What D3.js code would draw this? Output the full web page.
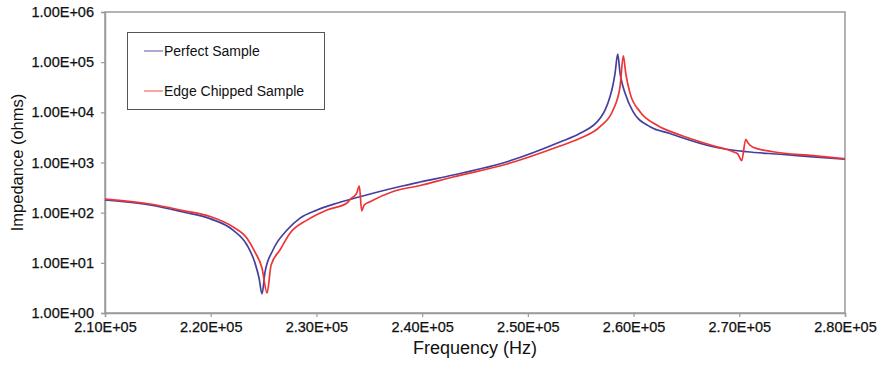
<!DOCTYPE html>
<html>
<head>
  <meta charset="utf-8">
  <script src="https://d3js.org/d3.v7.min.js"></script>
  <style>
    body { margin:0; background:#fff; font-family: Arial, "Liberation Sans", Helvetica, sans-serif; }
    text { font-family: Arial, "Liberation Sans", Helvetica, sans-serif; fill:#111; }
  </style>
</head>
<body>
  <div id="container"></div>
  <script>
    var w = 879, h = 365;

    var series = ["Perfect Sample", "Edge Chipped Sample"];
    var xTicks = [210000, 220000, 230000, 240000, 250000, 260000, 270000, 280000];
    var yTicks = [1, 10, 100, 1000, 10000, 100000, 1000000];

    var freqPerfect = [210000, 214260, 217380, 219930, 222110, 223430, 224190, 224570, 224850, 225140,
                       225890, 227220, 228450, 230060, 231570, 234030, 237910, 239800, 242920, 248030,
                       253040, 254940, 256830, 257300, 257770, 258010, 258250, 258500, 258720, 258910,
                       259190, 259950, 261560, 263450, 264400, 267520, 270710, 273860, 276980, 280000];
    var zPerfect = [179, 142, 103, 76, 45, 22.7, 9.9, 5.0, 2.4, 6.6,
                    18, 45, 78, 113, 146, 205, 332, 408, 563, 1037,
                    2560, 3820, 7600, 11100, 20500, 32000, 60800, 145000, 60800, 38400,
                    24300, 10300, 5170, 3790, 3220, 2060, 1640, 1460, 1300, 1160];

    var freqChipped = [210000, 214260, 217380, 219930, 222110, 223430, 224190, 224850, 225330, 225710,
                       226550, 227500, 229110, 231000, 232890, 233180, 233810, 234060, 234280, 234520,
                       235070, 237250, 239800, 242920, 248030, 253040, 254940, 256830, 258060, 258720,
                       259030, 259260, 259670, 260610, 262190, 264400, 267520, 269410, 269850, 270230,
                       270610, 270830, 271300, 273190, 276980, 280000];
    var zChipped = [187, 149, 110, 84, 52, 31, 16.4, 7.9, 2.5, 9.0,
                    18, 39, 71, 113, 156, 183, 246, 340, 109, 142,
                    165, 264, 348, 514, 933, 2130, 3030, 5170, 11100, 32400,
                    133000, 60000, 23900, 10300, 5590, 3530, 2160, 1640, 1480, 1090,
                    2900, 2450, 2010, 1640, 1370, 1190];

    var colors = ["#43409f", "#ee3434"];

    var margin = {top: 12, right: 34, bottom: 52, left: 105};
    var x0 = margin.left, x1 = w - margin.right, y0 = h - margin.bottom, y1 = margin.top;

    var svg = d3.select("#container").append("svg")
        .attr("width", w).attr("height", h);

    var x = d3.scaleLinear().domain([210000, 280000]).range([x0, x1]);
    var y = d3.scaleLog().domain([1, 1000000]).range([y0, y1]);

    function sci(v) {
      var e = Math.floor(Math.log10(v) + 1e-9);
      var m = v / Math.pow(10, e);
      return m.toFixed(2) + "E+" + (e < 10 ? "0" + e : e);
    }

    // frame
    svg.append("rect")
        .attr("x", x0).attr("y", y1)
        .attr("width", x1 - x0).attr("height", y0 - y1)
        .attr("fill", "none").attr("stroke", "#9a9a9a").attr("stroke-width", 1.5);

    var yAxis = svg.append("g")
        .attr("transform", "translate(" + x0 + ",0)")
        .call(d3.axisLeft(y).tickValues(yTicks).tickFormat(sci).tickSize(4).tickPadding(7));
    var xAxis = svg.append("g")
        .attr("transform", "translate(0," + y0 + ")")
        .call(d3.axisBottom(x).tickValues(xTicks).tickFormat(sci).tickSize(4).tickPadding(5));

    [yAxis, xAxis].forEach(function(a) {
      a.select(".domain").attr("stroke", "#9a9a9a").attr("stroke-width", 1.5);
      a.selectAll(".tick line").attr("stroke", "#9a9a9a").attr("stroke-width", 1.2);
      a.selectAll(".tick text").style("font-size", "14.5px").attr("fill", "#111")
          .attr("stroke", "#111").attr("stroke-width", 0.25);
    });

    svg.append("text")
        .attr("x", (x0 + x1) / 2).attr("y", 354)
        .attr("text-anchor", "middle")
        .style("font-size", "18px")
        .text("Frequency (Hz)");

    svg.append("text")
        .attr("transform", "translate(23," + ((y0 + y1) / 2) + ") rotate(-90)")
        .attr("text-anchor", "middle")
        .style("font-size", "16.5px")
        .text("Impedance (ohms)");

    var line = d3.line()
        .x(function(d) { return x(d[0]); })
        .y(function(d) { return y(d[1]); })
        .curve(d3.curveMonotoneX);

    var data = [d3.zip(freqPerfect, zPerfect), d3.zip(freqChipped, zChipped)];

    svg.append("g").selectAll("path")
        .data(data)
      .enter().append("path")
        .attr("d", line)
        .attr("fill", "none")
        .attr("stroke", function(d, i) { return colors[i]; })
        .attr("stroke-width", 1.7);

    // legend
    var lg = svg.append("g");
    lg.append("rect")
        .attr("x", 127.5).attr("y", 32.5).attr("width", 197).attr("height", 77)
        .attr("fill", "#fff").attr("stroke", "#555").attr("stroke-width", 1);
    series.forEach(function(s, i) {
      var ly = 51 + i * 40;
      lg.append("line")
          .attr("x1", 144).attr("x2", 163).attr("y1", ly).attr("y2", ly)
          .attr("stroke", colors[i]).attr("stroke-width", 1.2).attr("opacity", 0.75);
      lg.append("text")
          .attr("x", 164).attr("y", ly + 5)
          .style("font-size", "14px")
          .text(s);
    });
  </script>
</body>
</html>
